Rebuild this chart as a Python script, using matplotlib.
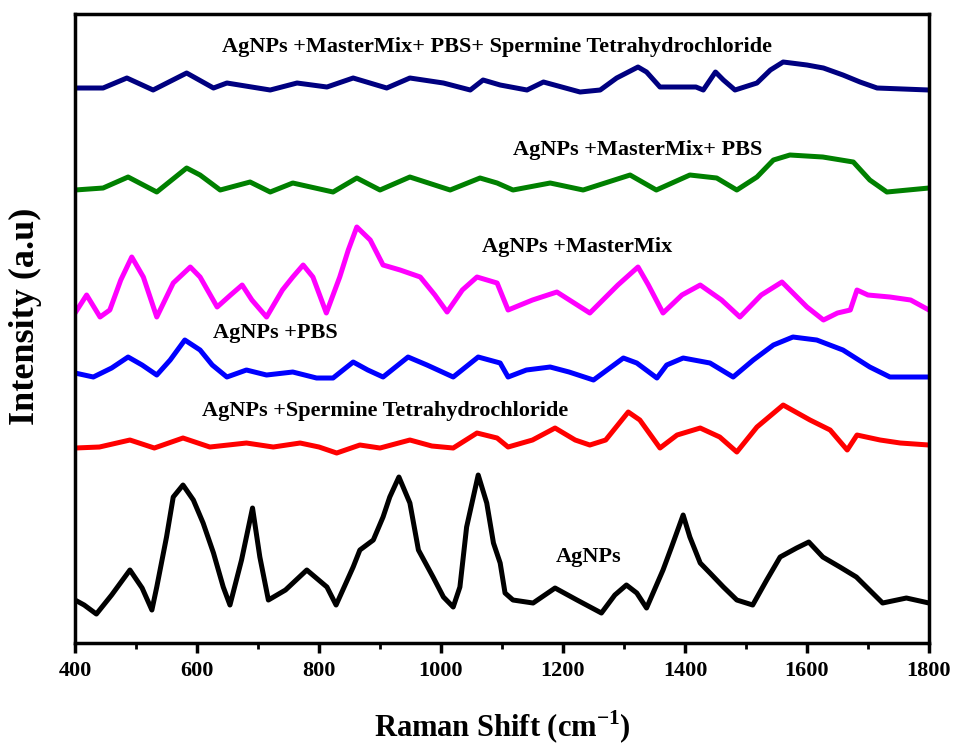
import numpy as np
import matplotlib
matplotlib.use("Agg")
import matplotlib.pyplot as plt
from matplotlib.ticker import MultipleLocator

plt.rcParams['font.family'] = ['Liberation Serif', 'DejaVu Serif']
plt.rcParams['font.weight'] = 'bold'
plt.rcParams['mathtext.fontset'] = 'custom'
plt.rcParams['mathtext.rm'] = 'Liberation Serif:bold'
plt.rcParams['mathtext.bf'] = 'Liberation Serif:bold'

# Raman spectra (stacked, arbitrary units)
x_agnps = [400, 415, 435, 460, 490, 510, 526, 534, 550, 561, 577, 594, 610, 627, 643, 654,
           673, 691, 703, 717, 745, 780, 813, 828, 856, 867, 889, 905, 916, 931, 949, 963,
           987, 1004, 1020, 1031, 1042, 1061, 1075, 1086, 1097, 1105, 1118, 1151, 1187, 1223,
           1263, 1285, 1304, 1321, 1337, 1364, 1378, 1397, 1408, 1425, 1441, 1463, 1485, 1511,
           1534, 1556, 1583, 1603, 1626, 1654, 1681, 1724, 1763, 1800]
y_agnps = [43, 38, 29, 48, 73, 55, 33, 56, 106, 146, 158, 143, 120, 90, 56, 38,
           83, 135, 86, 43, 53, 73, 56, 38, 76, 93, 103, 126, 146, 166, 140, 93,
           66, 46, 36, 56, 116, 168, 140, 100, 80, 50, 43, 40, 55, 43,
           30, 48, 58, 50, 35, 73, 96, 128, 106, 80, 70, 56, 43, 38,
           63, 86, 95, 101, 86, 76, 66, 40, 45, 40]

x_spm = [400, 440, 490, 530, 577, 621, 681, 725, 769, 800, 829, 867, 900, 949, 985, 1020,
         1059, 1092, 1110, 1150, 1187, 1220, 1244, 1270, 1307, 1326, 1359, 1387, 1425, 1457,
         1485, 1518, 1561, 1605, 1638, 1666, 1682, 1720, 1753, 1800]
y_spm = [195, 196, 203, 195, 205, 196, 200, 196, 200, 196, 190, 198, 195, 203, 197, 195,
         210, 205, 196, 203, 215, 203, 198, 203, 231, 223, 195, 208, 215, 206,
         191, 216, 238, 223, 213, 193, 208, 203, 200, 198]

x_pbs = [400, 430, 460, 487, 510, 534, 556, 580, 605, 625, 649, 681, 714, 757, 796, 823,
         856, 880, 905, 946, 977, 1020, 1061, 1097, 1110, 1140, 1179, 1210, 1250, 1299,
         1321, 1354, 1370, 1397, 1441, 1479, 1512, 1545, 1577, 1616, 1659, 1703, 1736, 1800]
y_pbs = [270, 266, 275, 286, 278, 268, 283, 303, 293, 278, 266, 273, 268, 271, 265, 265,
         281, 273, 266, 286, 278, 266, 286, 280, 266, 273, 276, 271, 263, 285,
         280, 265, 278, 285, 280, 266, 283, 298, 306, 303, 293, 276, 266, 266]

x_mm = [400, 419, 441, 457, 475, 493, 512, 534, 561, 589, 605, 633, 655, 674, 690, 714,
        740, 757, 774, 790, 812, 834, 848, 862, 884, 905, 933, 966, 990, 1010, 1035, 1059,
        1092, 1110, 1150, 1190, 1244, 1290, 1323, 1340, 1364, 1395, 1425, 1460, 1490, 1525,
        1559, 1600, 1627, 1650, 1671, 1682, 1700, 1736, 1770, 1800]
y_mm = [330, 348, 326, 333, 363, 386, 366, 326, 360, 376, 366, 336, 348, 358, 343, 326,
        353, 366, 378, 366, 330, 366, 393, 416, 403, 378, 373, 366, 348, 331, 353, 366,
        360, 333, 343, 351, 330, 358, 376, 358, 330, 348, 358, 343, 326, 348,
        361, 336, 323, 330, 333, 353, 348, 346, 343, 333]

x_mm_pbs = [400, 446, 487, 534, 583, 605, 638, 687, 720, 757, 823, 862, 900, 949, 1015, 1064,
            1092, 1118, 1179, 1233, 1310, 1353, 1408, 1452, 1485, 1518, 1545, 1572, 1626,
            1676, 1703, 1731, 1800]
y_mm_pbs = [453, 455, 466, 451, 475, 468, 453, 461, 451, 460, 451, 465, 453, 466, 453, 465,
            460, 453, 460, 453, 468, 453, 468, 465, 453, 466, 483, 488, 486,
            481, 463, 451, 455]

x_all = [400, 446, 485, 528, 583, 627, 649, 720, 764, 813, 856, 911, 949, 1004, 1048, 1069,
         1097, 1141, 1168, 1228, 1261, 1288, 1323, 1337, 1359, 1418, 1430, 1450, 1463, 1482,
         1518, 1540, 1561, 1600, 1627, 1659, 1687, 1715, 1800]
y_all = [555, 555, 565, 553, 570, 555, 560, 553, 560, 556, 565, 555, 565, 560, 553, 563,
         558, 553, 561, 551, 553, 565, 576, 571, 556, 556, 553, 571, 563, 553,
         560, 573, 581, 578, 575, 568, 561, 555, 553]

series = [
    (x_agnps, y_agnps, 'black', 'AgNPs', 1242, 86),
    (x_spm, y_spm, '#ff0000', 'AgNPs +Spermine Tetrahydrochloride', 908, 232),
    (x_pbs, y_pbs, '#0000ff', 'AgNPs +PBS', 728, 310),
    (x_mm, y_mm, '#ff00ff', 'AgNPs +MasterMix', 1223, 396),
    (x_mm_pbs, y_mm_pbs, '#008000', 'AgNPs +MasterMix+ PBS', 1322, 493),
    (x_all, y_all, '#000080', 'AgNPs +MasterMix+ PBS+ Spermine Tetrahydrochloride', 1092, 596),
]

fig = plt.figure(figsize=(9.57, 7.49), dpi=100)
ax = fig.add_axes([0.0784, 0.1415, 0.8923, 0.8398])

for xs, ys, c, lab, tx, ty in series:
    ax.plot(xs, ys, color=c, lw=3.6, solid_joinstyle='round')
    ax.text(tx, ty, lab, ha='center', va='center', fontsize=16, fontweight='bold')

ax.set_xlim(400, 1800)
ax.set_ylim(0, 629)
ax.xaxis.set_major_locator(MultipleLocator(200))
ax.xaxis.set_minor_locator(MultipleLocator(100))
ax.set_yticks([])
ax.tick_params(axis='x', which='major', direction='out', length=7, width=2.5,
               labelsize=16, pad=6)
ax.tick_params(axis='x', which='minor', direction='out', length=4, width=2)
for lbl in ax.get_xticklabels():
    lbl.set_fontweight('bold')
for sp in ax.spines.values():
    sp.set_linewidth(2.5)

ax.set_xlabel('Raman Shift (cm$^{\\mathbf{-1}}$)', fontsize=22, fontweight='bold')
ax.xaxis.set_label_coords(0.5, -0.104)
ax.set_ylabel('Intensity (a.u)', fontsize=26, fontweight='bold')
ax.yaxis.set_label_coords(-0.039, 0.52)

fig.savefig('out.png', dpi=100)
